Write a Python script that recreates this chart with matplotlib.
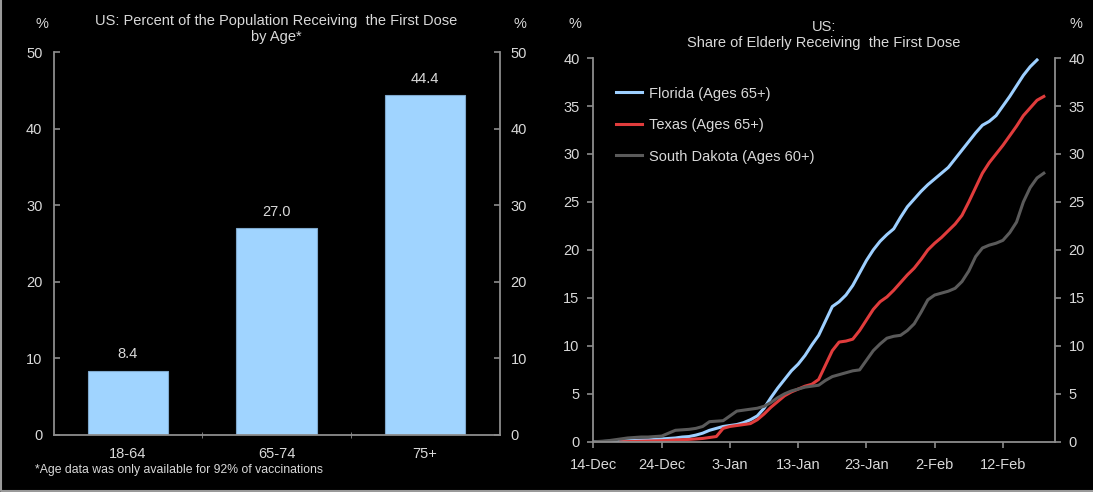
import numpy as np
import pandas as pd
import matplotlib
matplotlib.use("Agg")
import matplotlib.pyplot as plt
import matplotlib.dates as mdates
from matplotlib.lines import Line2D

plt.rcParams['font.family'] = ['Liberation Sans', 'DejaVu Sans']

# left panel data
age_groups = ['18-64', '65-74', '75+']
pct_first_dose = [8.4, 27.0, 44.4]

# right panel data (daily, starting 14-Dec-2020)
florida = [0, 0.02, 0.05, 0.08, 0.1, 0.12, 0.15, 0.18, 0.2, 0.25, 0.3, 0.35, 0.4, 0.5,
           0.55, 0.7, 0.9, 1.2, 1.4, 1.6, 1.7, 1.8, 2.0, 2.3, 2.7, 3.5, 4.6, 5.6, 6.5,
           7.4, 8.1, 9.0, 10.1, 11.1, 12.6, 14.1, 14.6, 15.3, 16.3, 17.6, 18.9, 20.0,
           20.9, 21.6, 22.2, 23.4, 24.5, 25.3, 26.1, 26.8, 27.4, 28.0, 28.6, 29.5, 30.4,
           31.3, 32.2, 33.0, 33.4, 34.0, 35.0, 36.0, 37.1, 38.2, 39.1, 39.8]
texas = [np.nan, np.nan, np.nan, np.nan,
         0, 0.02, 0.04, 0.06, 0.08, 0.1, 0.12, 0.15, 0.2, 0.22, 0.25, 0.3, 0.35, 0.45,
         0.55, 1.4, 1.6, 1.7, 1.8, 1.9, 2.3, 2.9, 3.6, 4.2, 4.8, 5.2, 5.5, 5.8, 6.0, 6.5,
         8.0, 9.5, 10.4, 10.5, 10.7, 11.6, 12.7, 13.8, 14.6, 15.1, 15.8, 16.6, 17.4,
         18.1, 19.0, 20.0, 20.7, 21.3, 22.0, 22.7, 23.6, 25.0, 26.5, 28.0, 29.1, 30.0,
         30.9, 31.9, 32.9, 34.0, 34.8, 35.6, 36.0]
south_dakota = [0, 0.05, 0.1, 0.2, 0.3, 0.4, 0.45, 0.5, 0.5, 0.55, 0.6, 0.9, 1.2, 1.25,
                1.3, 1.4, 1.6, 2.1, 2.15, 2.2, 2.7, 3.2, 3.3, 3.4, 3.5, 3.7, 4.1, 4.6, 5.0,
                5.3, 5.5, 5.7, 5.8, 5.9, 6.4, 6.8, 7.0, 7.2, 7.4, 7.5, 8.5, 9.5, 10.2, 10.8,
                11.0, 11.1, 11.6, 12.3, 13.5, 14.8, 15.3, 15.5, 15.7, 16.0, 16.7, 17.8,
                19.3, 20.2, 20.5, 20.7, 21.0, 21.8, 22.9, 25.0, 26.5, 27.5, 28.0]
start = pd.Timestamp('2020-12-14')

txt = '#d9d9d9'
spine = '#8c8c8c'
fs = 10.5

fig = plt.figure(figsize=(10.93, 4.92), dpi=100, facecolor='black')
# thin frame on the left and bottom edges
fig.lines.append(Line2D([0.001, 0.001, 1.0], [1.0, 0.003, 0.003], transform=fig.transFigure,
                        color='#9a9a9a', linewidth=1.5))


def style_axes(ax):
    ax.set_facecolor('black')
    ax.spines['top'].set_visible(False)
    for s in ['left', 'right', 'bottom']:
        ax.spines[s].set_color(spine)
        ax.spines[s].set_linewidth(1.3)
    ax.tick_params(colors=spine, labelcolor=txt, labelsize=fs, width=1.2, length=4)


# ---- left: bar chart
ax1 = fig.add_axes([0.049, 0.116, 0.408, 0.778])
style_axes(ax1)
x = np.arange(len(age_groups))
bars = ax1.bar(x, pct_first_dose, width=0.54, color='#a0d4ff', edgecolor='#7fa8cc', linewidth=0.8)
for b, v in zip(bars, pct_first_dose):
    ax1.text(b.get_x() + b.get_width() / 2, v + 1.2, f'{v:.1f}', ha='center', va='bottom',
             color=txt, fontsize=fs)
ax1.set_xlim(-0.5, 2.5)
ax1.set_ylim(0, 50)
ax1.set_yticks(range(0, 51, 10))
ax1.set_xticks(x)
ax1.set_xticklabels(age_groups)
ax1.set_xticks([0.5, 1.5], minor=True)
ax1.tick_params(axis='x', which='major', length=0, pad=9)
ax1.tick_params(axis='x', which='minor', colors=spine, length=4, direction='inout')
ax1.tick_params(axis='y', direction='in', right=True, labelright=True, pad=8)
ax1.spines['right'].set_visible(True)
ax1.set_title('US: Percent of the Population Receiving  the First Dose\nby Age*',
              color=txt, fontsize=fs, pad=8, linespacing=1.15)
fig.text(0.038, 0.944, '%', color=txt, fontsize=fs, ha='center')
fig.text(0.476, 0.944, '%', color=txt, fontsize=fs, ha='center')
fig.text(0.032, 0.038, '*Age data was only available for 92% of vaccinations', color=txt, fontsize=8.8)

# ---- right: line chart
ax2 = fig.add_axes([0.543, 0.102, 0.422, 0.78])
style_axes(ax2)
d_fl = pd.date_range(start, periods=len(florida))
d_tx = pd.date_range(start, periods=len(texas))
d_sd = pd.date_range(start, periods=len(south_dakota))
ax2.plot(d_fl, florida, color='#9dcfff', lw=2.2, label='Florida (Ages 65+)')
ax2.plot(d_tx, texas, color='#e03c3c', lw=2.2, label='Texas (Ages 65+)')
ax2.plot(d_sd, south_dakota, color='#5a5a5a', lw=2.2, label='South Dakota (Ages 60+)')
ax2.set_ylim(0, 40)
ax2.set_yticks(range(0, 41, 5))
ax2.set_xlim(start, start + pd.Timedelta(days=67.6))
ax2.set_xticks(pd.date_range(start, periods=7, freq='10D'))
ax2.xaxis.set_major_formatter(mdates.DateFormatter('%-d-%b'))
ax2.tick_params(axis='x', pad=8)
ax2.tick_params(axis='y', right=True, labelright=True, pad=6)
ax2.spines['right'].set_visible(True)
ax2.set_title('US:\nShare of Elderly Receiving  the First Dose', color=txt, fontsize=fs, pad=8,
              linespacing=1.15)
fig.text(0.526, 0.944, '%', color=txt, fontsize=fs, ha='center')
fig.text(0.984, 0.944, '%', color=txt, fontsize=fs, ha='center')
ax2.legend(loc='upper left', bbox_to_anchor=(0.02, 0.96), frameon=False, fontsize=fs,
           labelcolor=txt, handlelength=1.8, handletextpad=0.5, labelspacing=1.2)

fig.savefig('out.png', dpi=100, facecolor='black')
